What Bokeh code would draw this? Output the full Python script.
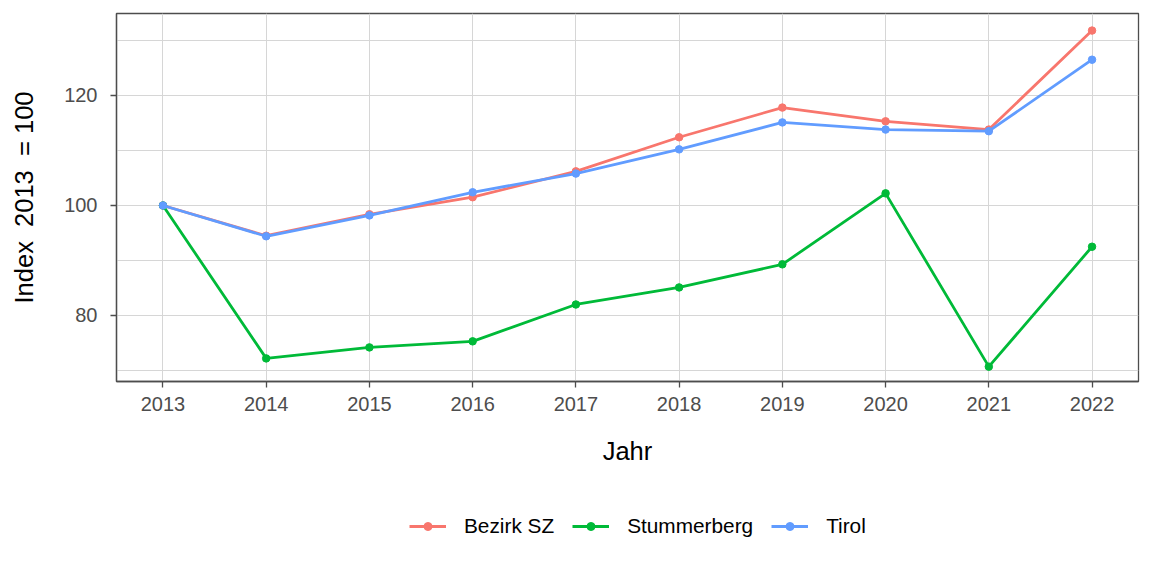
from bokeh.plotting import figure
from bokeh.models import Range1d, FixedTicker, Legend, LegendItem
from bokeh.layouts import column
from bokeh.embed import file_html
from bokeh.resources import INLINE

years = [2013, 2014, 2015, 2016, 2017, 2018, 2019, 2020, 2021, 2022]
bezirk_sz = [100, 94.5, 98.4, 101.5, 106.2, 112.4, 117.8, 115.3, 113.8, 131.8]
stummerberg = [100, 72.2, 74.2, 75.3, 82.0, 85.1, 89.3, 102.2, 70.7, 92.5]
tirol = [100, 94.4, 98.2, 102.4, 105.8, 110.2, 115.1, 113.8, 113.5, 126.5]
series_names = ["Bezirk SZ", "Stummerberg", "Tirol"]
colors = ["#F8766D", "#00BA38", "#619CFF"]
y_ticks = [80, 100, 120]
y_minor = [70, 90, 110, 130]

FONT = "Liberation Sans"
MAIN_H = 490

p = figure(width=1152, height=MAIN_H, output_backend="svg", toolbar_location=None,
           x_range=Range1d(2012.55, 2022.45), y_range=Range1d(68.0, 134.9),
           min_border_left=116, min_border_right=14, min_border_top=13,
           min_border_bottom=MAIN_H - 381)

p.background_fill_color = "white"
p.border_fill_color = "white"
p.outline_line_color = "#4D4D4D"
p.outline_line_width = 1.3

for name, vals, c in zip(series_names, [bezirk_sz, stummerberg, tirol], colors):
    p.line(years, vals, line_color=c, line_width=2.8)
    p.scatter(years, vals, size=7.5, fill_color=c, line_color=c)

p.xaxis.ticker = FixedTicker(ticks=years, minor_ticks=[])
p.yaxis.ticker = FixedTicker(ticks=y_ticks, minor_ticks=y_minor)

for ax in [p.xaxis[0], p.yaxis[0]]:
    ax.axis_line_color = "#4D4D4D"
    ax.axis_line_width = 1.3
    ax.major_tick_line_color = "#4D4D4D"
    ax.major_tick_line_width = 1.3
    ax.major_tick_in = 0
    ax.major_tick_out = 6
    ax.minor_tick_line_color = None
    ax.major_label_text_font = FONT
    ax.major_label_text_font_size = "20px"
    ax.major_label_text_color = "#4D4D4D"
    ax.axis_label_text_font = FONT
    ax.axis_label_text_font_size = "25.5px"
    ax.axis_label_text_font_style = "normal"
    ax.axis_label_text_color = "black"

p.xaxis.axis_label = "Jahr"
p.yaxis.axis_label = "Index\u00a0 2013\u00a0 = 100"
p.xaxis.major_label_standoff = 9
p.xaxis.axis_label_standoff = 23
p.yaxis.major_label_standoff = 13
p.yaxis.axis_label_standoff = 23

p.xgrid.grid_line_color = "#D6D6D6"
p.xgrid.grid_line_width = 1
p.ygrid.grid_line_color = "#D6D6D6"
p.ygrid.grid_line_width = 1
p.ygrid.minor_grid_line_color = "#D6D6D6"
p.ygrid.minor_grid_line_width = 1

# legend strip below the plot (its frame is aligned with the main frame)
lg = figure(width=1152, height=576 - MAIN_H, output_backend="svg", toolbar_location=None,
            x_range=Range1d(0, 1), y_range=Range1d(0, 1), min_border=0)
lg.axis.visible = False
lg.grid.visible = False
lg.outline_line_color = None
lg.background_fill_color = "white"
lg.border_fill_color = "white"

items = []
for name, c in zip(series_names, colors):
    # renderers placed outside the visible range; used only for legend glyphs
    r1 = lg.line(x=[5, 6], y=[5, 6], line_color=c, line_width=2.8)
    r2 = lg.scatter(x=[5], y=[5], size=6, fill_color=c, line_color=c)
    items.append(LegendItem(label=name, renderers=[r1, r2]))

legend = Legend(items=items, orientation="horizontal", location=(293, 38),
                label_text_font=FONT, label_text_font_size="20.8px",
                label_text_color="black", glyph_width=37, glyph_height=20,
                label_standoff=18, spacing=18, border_line_color=None,
                background_fill_alpha=0, margin=0, padding=0)
lg.add_layout(legend, "center")

layout = column(p, lg, spacing=0)
open("out.html", "w").write(file_html(layout, INLINE))
